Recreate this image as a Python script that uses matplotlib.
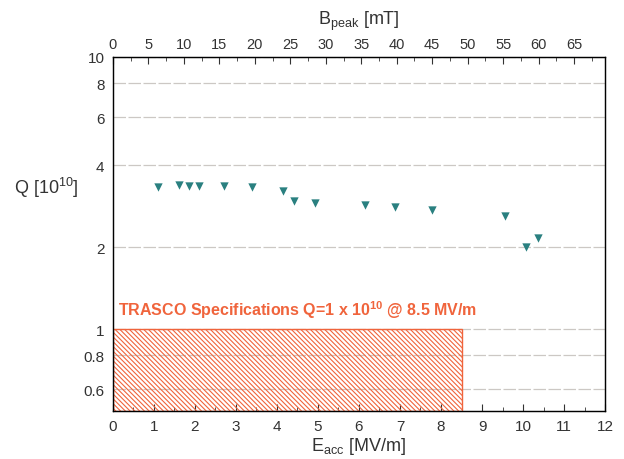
import matplotlib
matplotlib.use('Agg')
import matplotlib.pyplot as plt
from matplotlib.patches import Rectangle
from matplotlib.ticker import FixedLocator, MultipleLocator, NullLocator

plt.rcParams['font.family'] = ['Liberation Sans', 'DejaVu Sans']
plt.rcParams['hatch.linewidth'] = 0.8

# data
e_acc = [1.10, 1.62, 1.86, 2.10, 2.71, 3.38, 4.15, 4.41, 4.93, 6.15, 6.89, 7.78, 9.55, 10.07, 10.37]
q_val = [3.32, 3.38, 3.35, 3.35, 3.35, 3.32, 3.22, 2.95, 2.91, 2.85, 2.80, 2.75, 2.60, 2.00, 2.16]
y_ticks = [0.6, 0.8, 1, 2, 4, 6, 8, 10]
y_tick_labels = ['0.6', '0.8', '1', '2', '4', '6', '8', '10']
spec_e = 8.5
spec_q = 1.0
b_ratio = 5.78  # mT per MV/m

txt = '#333333'
orange = '#F0643C'

fig = plt.figure(figsize=(6.24, 4.6), dpi=100)
ax = fig.add_axes([0.181, 0.1043, 0.7886, 0.7697])

ax.set_yscale('log')
ax.set_xlim(0, 12)
ax.set_ylim(0.5, 10)

ax.add_patch(Rectangle((0, 0.5), spec_e, spec_q - 0.5, fill=False,
                       edgecolor=orange, hatch='\\' * 7, linewidth=1.0, zorder=2))

ax.scatter(e_acc, q_val, marker='v', s=36, color='#2A8080', zorder=4, linewidths=0)

ax.yaxis.set_major_locator(FixedLocator(y_ticks))
ax.yaxis.set_minor_locator(NullLocator())
ax.set_yticklabels(y_tick_labels)
ax.grid(axis='y', which='major', color='#CCC8C4', linestyle=(0, (10, 2)), linewidth=0.9, zorder=1)
ax.set_axisbelow(True)

ax.xaxis.set_major_locator(MultipleLocator(1))
ax.xaxis.set_minor_locator(MultipleLocator(0.5))
ax.tick_params(axis='x', which='both', direction='in', colors=txt, labelsize=11, pad=6)
ax.tick_params(axis='x', which='major', length=5)
ax.tick_params(axis='x', which='minor', length=3)
ax.tick_params(axis='y', which='both', length=0, labelsize=11, labelcolor=txt, pad=6)

ax.set_xlabel(r'E$_{\mathregular{acc}}$ [MV/m]', fontsize=13, color=txt, labelpad=1)
ax.set_ylabel(r'Q [10$^{\mathregular{10}}$]', fontsize=13, color=txt, rotation=0, labelpad=0)
ax.yaxis.set_label_coords(-0.135, 0.6)

ax.text(0.12, 1.18, r'TRASCO Specifications Q=1 x 10$^{\mathregular{10}}$ @ 8.5 MV/m',
        color=orange, fontsize=11.5, fontweight='bold', va='center', ha='left')

for s in ax.spines.values():
    s.set_color('#222222')
    s.set_linewidth(1.0)

top = ax.twiny()
top.set_xlim(0, 12 * b_ratio)
top.xaxis.set_major_locator(MultipleLocator(5))
top.xaxis.set_minor_locator(MultipleLocator(2.5))
top.tick_params(axis='x', which='both', direction='in', colors=txt, labelsize=10.5, pad=4)
top.tick_params(axis='x', which='major', length=5)
top.tick_params(axis='x', which='minor', length=3)
top.set_xlabel(r'B$_{\mathregular{peak}}$ [mT]', fontsize=13, color=txt, labelpad=10)

fig.savefig('out.png', dpi=100)
